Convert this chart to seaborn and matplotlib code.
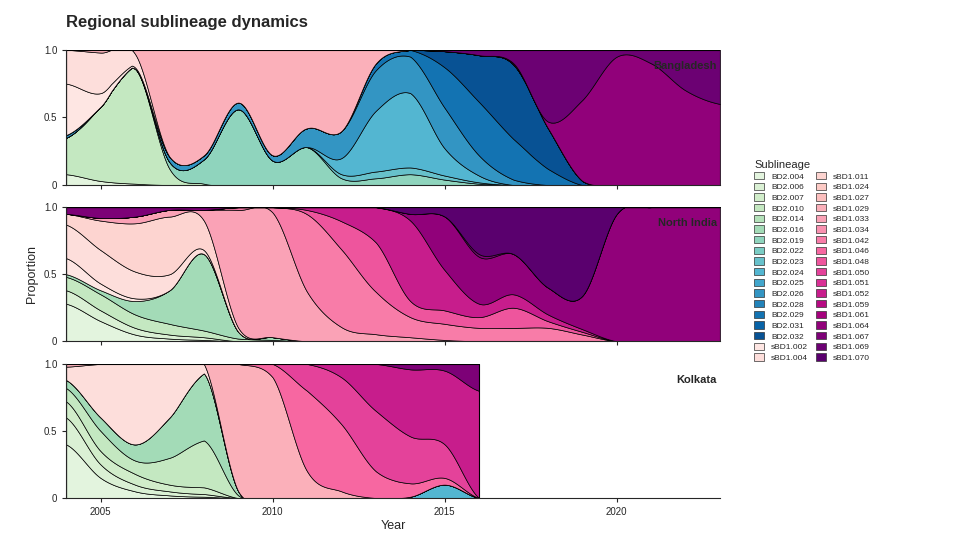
import seaborn as sns
import matplotlib.pyplot as plt
import numpy as np
from matplotlib.patches import Patch

years = list(range(2004, 2024))

bd2_names = ["BD2.004", "BD2.006", "BD2.007", "BD2.010", "BD2.014", "BD2.016", "BD2.019", "BD2.022",
             "BD2.023", "BD2.024", "BD2.025", "BD2.026", "BD2.028", "BD2.029", "BD2.031", "BD2.032"]
sbd1_names = ["sBD1.002", "sBD1.004", "sBD1.011", "sBD1.024", "sBD1.027", "sBD1.029", "sBD1.033",
              "sBD1.034", "sBD1.042", "sBD1.046", "sBD1.048", "sBD1.050", "sBD1.051", "sBD1.052",
              "sBD1.059", "sBD1.061", "sBD1.064", "sBD1.067", "sBD1.069", "sBD1.070"]
names = bd2_names + sbd1_names

# yearly proportions (2004..2023), columns are normalised per year
bangladesh = {
    "BD2.004": [0.08, 0.03, 0.01, 0, 0, 0, 0, 0, 0, 0, 0, 0, 0, 0, 0, 0, 0, 0, 0, 0],
    "BD2.010": [0.27, 0.55, 0.85, 0.12, 0.01, 0, 0, 0, 0, 0, 0, 0, 0, 0, 0, 0, 0, 0, 0, 0],
    "BD2.019": [0, 0, 0, 0.05, 0.18, 0.56, 0.18, 0.28, 0.05, 0.05, 0.08, 0.04, 0.01, 0, 0, 0, 0, 0, 0, 0],
    "BD2.023": [0, 0, 0, 0, 0, 0, 0, 0, 0.03, 0.05, 0.05, 0.03, 0.01, 0, 0, 0, 0, 0, 0, 0],
    "BD2.024": [0, 0, 0, 0, 0, 0, 0, 0, 0.12, 0.45, 0.55, 0.2, 0.05, 0, 0, 0, 0, 0, 0, 0],
    "BD2.026": [0.02, 0, 0, 0.04, 0.03, 0.05, 0.04, 0.14, 0.2, 0.3, 0.27, 0.3, 0.15, 0.04, 0, 0, 0, 0, 0, 0],
    "BD2.029": [0, 0, 0, 0, 0, 0, 0, 0, 0, 0.05, 0.05, 0.3, 0.4, 0.3, 0.12, 0, 0, 0, 0, 0],
    "BD2.032": [0, 0, 0, 0, 0, 0, 0, 0, 0, 0, 0, 0.12, 0.35, 0.55, 0.3, 0.03, 0, 0, 0, 0],
    "sBD1.002": [0.38, 0.1, 0.01, 0, 0, 0, 0, 0, 0, 0, 0, 0, 0, 0, 0, 0, 0, 0, 0, 0],
    "sBD1.004": [0.25, 0.3, 0.1, 0, 0, 0, 0, 0, 0, 0, 0, 0, 0, 0, 0, 0, 0, 0, 0, 0],
    "sBD1.029": [0, 0.02, 0.03, 0.79, 0.78, 0.39, 0.78, 0.58, 0.6, 0.1, 0, 0, 0, 0, 0, 0, 0, 0, 0, 0],
    "sBD1.064": [0, 0, 0, 0, 0, 0, 0, 0, 0, 0, 0, 0, 0, 0.01, 0.05, 0.6, 0.95, 0.9, 0.7, 0.6],
    "sBD1.069": [0, 0, 0, 0, 0, 0, 0, 0, 0, 0, 0, 0.01, 0.04, 0.1, 0.53, 0.37, 0.05, 0.1, 0.3, 0.4],
}
north_india = {
    "BD2.004": [0.28, 0.15, 0.05, 0.02, 0.01, 0, 0, 0, 0, 0, 0, 0, 0, 0, 0, 0, 0, 0, 0, 0],
    "BD2.006": [0.1, 0.08, 0.05, 0.03, 0.02, 0, 0, 0, 0, 0, 0, 0, 0, 0, 0, 0, 0, 0, 0, 0],
    "BD2.010": [0.1, 0.12, 0.1, 0.08, 0.05, 0.02, 0.01, 0, 0, 0, 0, 0, 0, 0, 0, 0, 0, 0, 0, 0],
    "BD2.016": [0.02, 0.03, 0.1, 0.25, 0.57, 0.05, 0.02, 0, 0, 0, 0, 0, 0, 0, 0, 0, 0, 0, 0, 0],
    "sBD1.002": [0.12, 0.05, 0.02, 0, 0, 0, 0, 0, 0, 0, 0, 0, 0, 0, 0, 0, 0, 0, 0, 0],
    "sBD1.004": [0.25, 0.25, 0.2, 0.12, 0.03, 0, 0, 0, 0, 0, 0, 0, 0, 0, 0, 0, 0, 0, 0, 0],
    "sBD1.011": [0.08, 0.22, 0.36, 0.43, 0.22, 0.03, 0, 0, 0, 0, 0, 0, 0, 0, 0, 0, 0, 0, 0, 0],
    "sBD1.033": [0, 0.02, 0.05, 0.05, 0.08, 0.88, 0.92, 0.35, 0.1, 0.05, 0.03, 0.01, 0, 0, 0, 0, 0, 0, 0, 0],
    "sBD1.042": [0, 0, 0, 0, 0, 0.02, 0.04, 0.55, 0.55, 0.3, 0.15, 0.12, 0.1, 0.1, 0.1, 0.05, 0, 0, 0, 0],
    "sBD1.048": [0, 0, 0, 0, 0, 0, 0, 0.03, 0.2, 0.35, 0.12, 0.1, 0.08, 0.15, 0.05, 0.02, 0, 0, 0, 0],
    "sBD1.052": [0, 0, 0, 0, 0, 0, 0, 0.02, 0.1, 0.25, 0.6, 0.3, 0.1, 0.1, 0.05, 0.02, 0, 0, 0, 0],
    "sBD1.064": [0, 0, 0, 0, 0, 0, 0, 0, 0, 0, 0.05, 0.4, 0.35, 0.3, 0.2, 0.25, 0.95, 1, 1, 1],
    "sBD1.067": [0.05, 0.08, 0.07, 0.02, 0.02, 0, 0, 0, 0, 0, 0, 0, 0.02, 0, 0, 0, 0, 0, 0, 0],
    "sBD1.070": [0, 0, 0, 0, 0, 0, 0, 0, 0, 0, 0.05, 0.07, 0.35, 0.35, 0.6, 0.66, 0.05, 0, 0, 0],
}
kolkata_years = list(range(2004, 2017))
kolkata = {
    "BD2.004": [0.4, 0.15, 0.05, 0.02, 0.01, 0, 0, 0, 0, 0, 0, 0, 0],
    "BD2.006": [0.2, 0.1, 0.05, 0.03, 0.02, 0, 0, 0, 0, 0, 0, 0, 0],
    "BD2.007": [0.12, 0.1, 0.08, 0.05, 0.05, 0, 0, 0, 0, 0, 0, 0, 0],
    "BD2.010": [0.1, 0.15, 0.1, 0.2, 0.35, 0.02, 0, 0, 0, 0, 0, 0, 0],
    "BD2.016": [0.06, 0.1, 0.12, 0.3, 0.5, 0.03, 0, 0, 0, 0, 0, 0, 0],
    "BD2.024": [0, 0, 0, 0, 0, 0, 0, 0, 0, 0, 0.01, 0.1, 0],
    "sBD1.004": [0.1, 0.4, 0.6, 0.4, 0.07, 0, 0, 0, 0, 0, 0, 0, 0],
    "sBD1.029": [0.02, 0, 0, 0, 0, 0.95, 0.9, 0.2, 0.05, 0, 0, 0, 0],
    "sBD1.046": [0, 0, 0, 0, 0, 0, 0.1, 0.6, 0.5, 0.2, 0.1, 0.05, 0],
    "sBD1.050": [0, 0, 0, 0, 0, 0, 0, 0.2, 0.35, 0.45, 0.35, 0.25, 0],
    "sBD1.052": [0, 0, 0, 0, 0, 0, 0, 0, 0.1, 0.35, 0.5, 0.55, 0.8],
    "sBD1.067": [0, 0, 0, 0, 0, 0, 0, 0, 0, 0, 0.04, 0.05, 0.2],
}

sns.set_style("ticks")
plt.rcParams['font.family'] = ['Liberation Sans', 'DejaVu Sans']
colors = dict(zip(bd2_names, sns.color_palette("GnBu", len(bd2_names) + 1)[1:]))
colors.update(zip(sbd1_names, sns.color_palette("RdPu", len(sbd1_names) + 1)[1:]))


def smooth(yrs, vals, n=40):
    # Catmull-Rom spline through the yearly values, clipped and renormalised
    p = np.concatenate([vals[:, :1], vals, vals[:, -1:]], axis=1)
    xs, ys = [], []
    for i in range(len(yrs) - 1):
        t = np.linspace(0, 1, n, endpoint=False)
        p0, p1, p2, p3 = p[:, i:i + 1], p[:, i + 1:i + 2], p[:, i + 2:i + 3], p[:, i + 3:i + 4]
        seg = 0.5 * (2 * p1 + (-p0 + p2) * t + (2 * p0 - 5 * p1 + 4 * p2 - p3) * t**2
                     + (-p0 + 3 * p1 - 3 * p2 + p3) * t**3)
        xs.append(yrs[i] + t)
        ys.append(seg)
    xs.append([yrs[-1]])
    ys.append(vals[:, -1:])
    y = np.clip(np.concatenate(ys, axis=1), 0, None)
    return np.concatenate(xs), y / y.sum(axis=0)


def draw_region(ax, data, yrs, label):
    keys = [k for k in names if k in data]
    vals = np.array([data[k] for k in keys], dtype=float)
    vals = vals / vals.sum(axis=0)
    x, y = smooth(yrs, vals)
    base = np.zeros_like(x)
    for k, row in zip(keys, y):
        ax.fill_between(x, base, base + row, facecolor=colors[k], edgecolor="black", linewidth=0.5)
        base = base + row
    ax.plot([yrs[0], yrs[-1]], [1, 1], color="black", lw=0.8)
    ax.plot([yrs[-1], yrs[-1]], [0, 1], color="black", lw=0.8)
    ax.text(0.995, 0.88, label, transform=ax.transAxes, ha="right", va="center",
            fontsize=8, fontweight="bold")
    ax.set_xlim(2004, 2023)
    ax.set_ylim(0, 1)
    ax.set_yticks([0, 0.5, 1.0])
    ax.set_yticklabels(["0", "0.5", "1.0"], fontsize=7)
    ax.set_xticks([2005, 2010, 2015, 2020])
    ax.tick_params(length=3, labelsize=7)
    sns.despine(ax=ax)


fig = plt.figure(figsize=(9.6, 5.54), dpi=100)
left, width = 0.069, 0.681
ax1 = fig.add_axes([left, 0.666, width, 0.244])
ax2 = fig.add_axes([left, 0.384, width, 0.242])
ax3 = fig.add_axes([left, 0.101, width, 0.242])
draw_region(ax1, bangladesh, years, "Bangladesh")
draw_region(ax2, north_india, years, "North India")
draw_region(ax3, kolkata, kolkata_years, "Kolkata")
for ax in (ax1, ax2):
    ax.set_xticklabels([])
ax2.set_ylabel("Proportion", fontsize=9)
ax3.set_xlabel("Year", fontsize=9, labelpad=2)
fig.text(0.069, 0.96, "Regional sublineage dynamics", fontsize=12, fontweight="bold", va="center")

handles = [Patch(facecolor=colors[n], edgecolor="#333333", linewidth=0.5, label=n) for n in names]
fig.legend(handles=handles, ncol=2, loc="upper left", bbox_to_anchor=(0.778, 0.725), frameon=False,
           title="Sublineage", title_fontsize=8, fontsize=6, handlelength=1.2, handleheight=1.0,
           labelspacing=0.25, columnspacing=1.0, alignment="left")

plt.savefig("out.png")
